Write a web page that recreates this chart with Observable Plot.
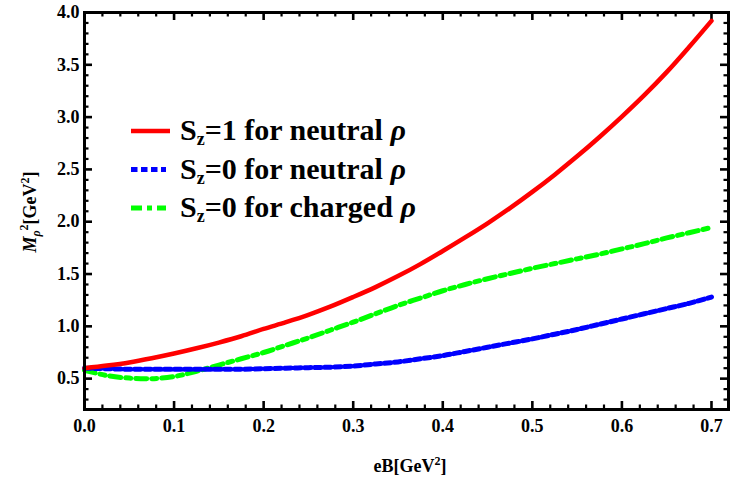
<!DOCTYPE html>
<html>
<head>
<meta charset="utf-8">
<script src="https://cdn.jsdelivr.net/npm/d3@7"></script>
<script src="https://cdn.jsdelivr.net/npm/@observablehq/plot@0.6"></script>
<style>
  body { margin: 0; background: #fff; }
  #chart svg { display: block; }
</style>
</head>
<body>
<div id="chart"></div>
<script>
// Squared rho-meson mass versus magnetic field strength eB
const eB = [0, 0.025, 0.05, 0.075, 0.1, 0.125, 0.15, 0.175, 0.2, 0.225, 0.25, 0.275, 0.3, 0.325,
            0.35, 0.375, 0.4, 0.425, 0.45, 0.475, 0.5, 0.525, 0.55, 0.575, 0.6, 0.625, 0.65, 0.675, 0.7];

// S_z = 1, neutral rho
const sz1Neutral = [0.60, 0.625, 0.655, 0.695, 0.74, 0.79, 0.845, 0.905, 0.975, 1.04, 1.11, 1.19, 1.28, 1.375,
                    1.48, 1.595, 1.72, 1.85, 1.985, 2.13, 2.285, 2.45, 2.625, 2.81, 3.005, 3.21, 3.43, 3.67, 3.92];

// S_z = 0, neutral rho
const sz0Neutral = [0.60, 0.595, 0.59, 0.59, 0.59, 0.59, 0.59, 0.59, 0.595, 0.60, 0.605, 0.61, 0.62, 0.64,
                    0.66, 0.69, 0.72, 0.76, 0.80, 0.84, 0.88, 0.925, 0.97, 1.02, 1.07, 1.12, 1.17, 1.22, 1.28];

// S_z = 0, charged rho
const sz0Charged = [0.58, 0.53, 0.505, 0.50, 0.52, 0.57, 0.63, 0.69, 0.75, 0.82, 0.89, 0.965, 1.04, 1.12,
                    1.20, 1.27, 1.34, 1.40, 1.455, 1.505, 1.555, 1.60, 1.645, 1.69, 1.74, 1.79, 1.845, 1.895, 1.945];

const xTicks = [0, 0.1, 0.2, 0.3, 0.4, 0.5, 0.6, 0.7];
const yTicks = [0.5, 1.0, 1.5, 2.0, 2.5, 3.0, 3.5, 4.0];

const legendItems = [
  {sz: "1", kind: "neutral", color: "#ff0000", dash: null},
  {sz: "0", kind: "neutral", color: "#0000ff", dash: "6.5,3.5"},
  {sz: "0", kind: "charged", color: "#00ff00", dash: "11,5,5,5"}
];

const xMinor = d3.range(1, 36).map(i => i * 0.02).filter(v => Math.abs(v * 10 - Math.round(v * 10)) > 1e-6);
const yMinor = d3.range(3, 40).map(i => i / 10).filter(v => Math.abs(v * 2 - Math.round(v * 2)) > 1e-6);

const fmt = d3.format(".1f");
const serif = "\"Liberation Serif\", \"Times New Roman\", serif";

const W = 736, H = 480;
const mL = 84, mR = 8, mT = 12, mB = 71;
const innerW = W - mL - mR, innerH = H - mT - mB;
const major = 8, minor = 4.5;

const chart = Plot.plot({
  width: W,
  height: H,
  marginLeft: mL,
  marginRight: mR,
  marginTop: mT,
  marginBottom: mB,
  style: {fontFamily: serif, fontSize: "18px", fontWeight: "bold", background: "#fff", color: "#000"},
  x: {domain: [0, 0.719]},
  y: {domain: [0.205, 4.0]},
  marks: [
    // tick labels
    Plot.axisX(xTicks, {anchor: "bottom", tickSize: 0, tickPadding: 10, tickFormat: fmt}),
    Plot.axisY(yTicks, {anchor: "left", tickSize: 0, tickPadding: 5, tickFormat: fmt}),
    // inward ticks on all four sides
    Plot.ruleX(xTicks, {insetTop: innerH - major, stroke: "#000", strokeWidth: 2.6}),
    Plot.ruleX(xTicks, {insetBottom: innerH - major, stroke: "#000", strokeWidth: 2.6}),
    Plot.ruleX(xMinor, {insetTop: innerH - minor, stroke: "#000", strokeWidth: 2.2}),
    Plot.ruleX(xMinor, {insetBottom: innerH - minor, stroke: "#000", strokeWidth: 2.2}),
    Plot.ruleY(yTicks, {insetRight: innerW - major, stroke: "#000", strokeWidth: 2.6}),
    Plot.ruleY(yTicks, {insetLeft: innerW - major, stroke: "#000", strokeWidth: 2.6}),
    Plot.ruleY(yMinor, {insetRight: innerW - minor, stroke: "#000", strokeWidth: 2.2}),
    Plot.ruleY(yMinor, {insetLeft: innerW - minor, stroke: "#000", strokeWidth: 2.2}),
    // curves
    Plot.line(eB, {x: eB, y: sz0Charged, stroke: legendItems[2].color, strokeWidth: 5,
                   strokeDasharray: legendItems[2].dash, curve: "catmull-rom"}),
    Plot.line(eB, {x: eB, y: sz0Neutral, stroke: legendItems[1].color, strokeWidth: 5,
                   strokeDasharray: legendItems[1].dash, curve: "catmull-rom"}),
    Plot.line(eB, {x: eB, y: sz1Neutral, stroke: legendItems[0].color, strokeWidth: 4.5,
                   curve: "catmull-rom"}),
    Plot.frame({stroke: "#000", strokeWidth: 3})
  ]
});

document.getElementById("chart").appendChild(chart);

const svg = d3.select(chart);

// legend
const legend = svg.append("g").attr("font-size", 30);

legendItems.forEach((item, i) => {
  const y = 131 + i * 38.5;
  legend.append("line")
    .attr("x1", 131).attr("x2", item.dash ? 166 : 170)
    .attr("y1", y).attr("y2", y)
    .attr("stroke", item.color)
    .attr("stroke-width", item.dash ? 5 : 4.5)
    .attr("stroke-dasharray", item.dash);
  const t = legend.append("text").attr("x", 180).attr("y", y + 9).attr("text-anchor", "start");
  t.append("tspan").text("S");
  t.append("tspan").attr("font-size", 18).attr("dy", 5).text("z");
  t.append("tspan").attr("dy", -5).text(`=${item.sz} for ${item.kind} `);
  t.append("tspan").attr("font-style", "italic").text("ρ");
});

// axis titles
const titles = svg.append("g").attr("font-size", 18);

const xt = titles.append("text")
  .attr("x", 410).attr("y", 472).attr("text-anchor", "middle");
xt.append("tspan").text("eB[GeV");
xt.append("tspan").attr("font-size", 12).attr("dy", -7).text("2");
xt.append("tspan").attr("dy", 7).text("]");

const yt = titles.append("text")
  .attr("transform", "translate(36,212) rotate(-90)")
  .attr("text-anchor", "middle");
yt.append("tspan").attr("font-style", "italic").text("M");
yt.append("tspan").attr("font-style", "italic").attr("font-size", 12).attr("dy", 4).text("ρ");
yt.append("tspan").attr("font-size", 12).attr("dy", -12).text("2");
yt.append("tspan").attr("dy", 8).text("[GeV");
yt.append("tspan").attr("font-size", 12).attr("dy", -7).text("2");
yt.append("tspan").attr("dy", 7).text("]");

// every label in the serif face, bold, black
svg.selectAll("text")
  .style("font-family", serif)
  .style("font-weight", "bold")
  .style("fill", "#000");
</script>
</body>
</html>
